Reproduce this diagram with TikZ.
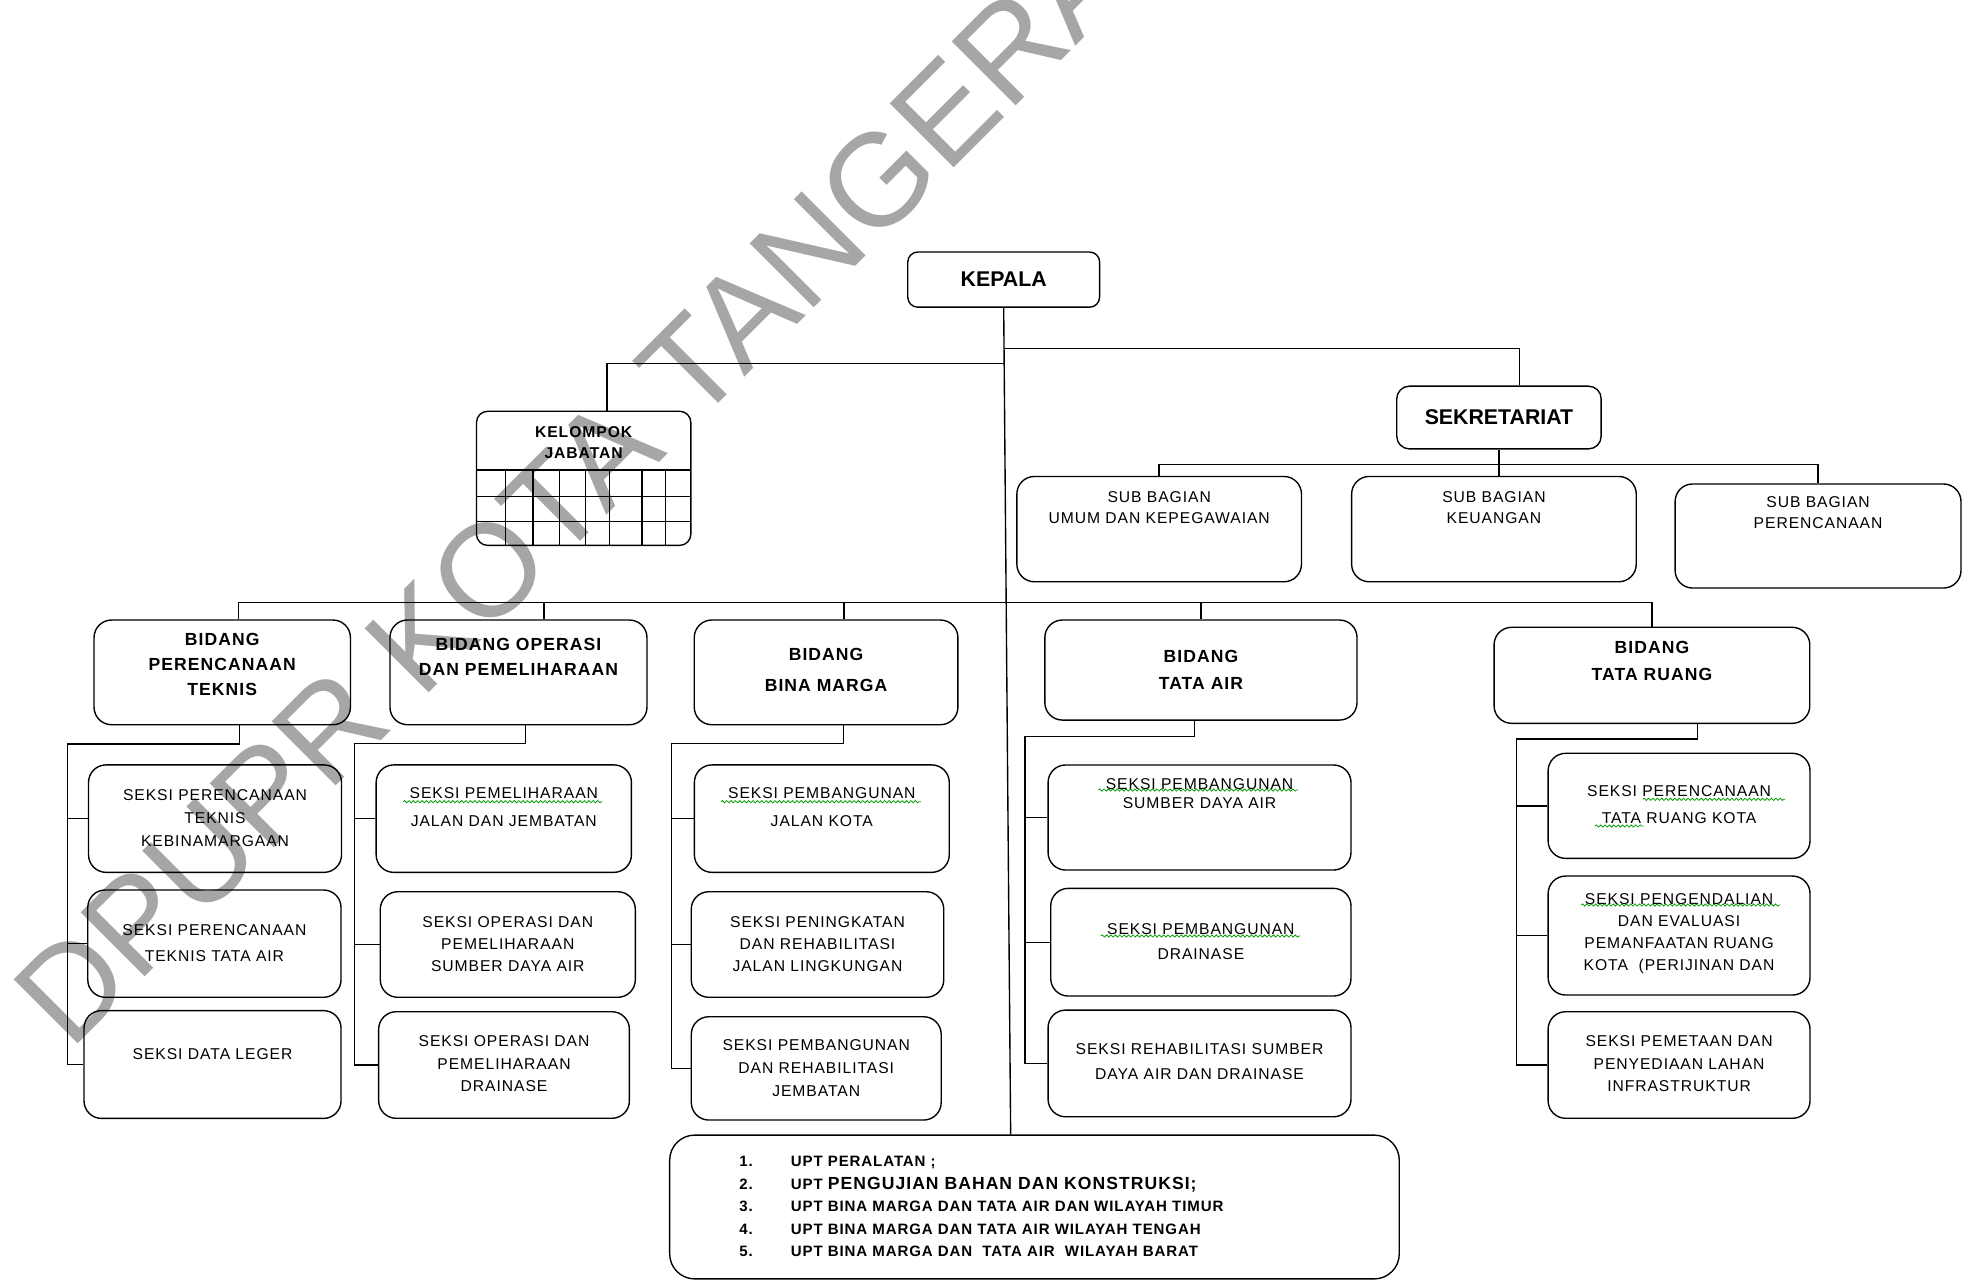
\documentclass[tikz,border=0pt]{standalone}
\usepackage{fontspec}
\setmainfont{Liberation Sans}
\newfontfamily\lebar{Liberation Sans}[LetterSpace=6]
\usetikzlibrary{decorations.pathmorphing}

\tikzset{
  garis/.style={line width=1.1pt},
  kotak/.style={draw, line width=1.1pt, rounded corners=14pt, inner sep=0pt},
  isi/.style={align=center, inner sep=0pt, font=\lebar\fontsize{12.5}{#1}\selectfont},
  isi/.default=18,
  judul/.style={align=center, inner sep=0pt, font=\lebar\bfseries\fontsize{14}{#1}\selectfont},
  judul/.default=21,
  kecil/.style={align=center, inner sep=0pt, font=\lebar\bfseries\fontsize{12.5}{17}\selectfont},
  salah/.style={draw=green!60!black, line width=0.6pt, decorate,
    decoration={snake, amplitude=0.9pt, segment length=3.5pt}},
  tandaair/.style={rotate=45, anchor=base west, inner sep=0pt, text=black!35,
    font=\fontsize{105}{105}\selectfont}
}

\begin{document}
\begin{tikzpicture}[x=1pt, y=-1pt]
  \useasboundingbox (0,0) rectangle (1568,1022);

  \begin{scope}
    \clip (0,0) rectangle (1568,1022);
    \draw (56,839) node [tandaair] (watermark) {DPUPR KOTA TANGERANG};
  \end{scope}

  \draw (800.5,223) node [kotak, rounded corners=8pt, minimum width=153pt, minimum height=44pt,
    font=\bfseries\fontsize{17}{20}\selectfont] (kepala) {KEPALA};

  \draw (1195.5,333) node [kotak, rounded corners=10pt, minimum width=163pt, minimum height=50pt,
    font=\bfseries\fontsize{17}{20}\selectfont] (sekretariat) {SEKRETARIAT};

  \draw (465.5,381.5) node [kotak, rounded corners=9pt, minimum width=171pt, minimum height=107pt,
    label={[kecil, below=12.5pt]north:{KELOMPOK\\JABATAN}}] (jabatan) {};
  \foreach \gy in {375,396,416} \draw[garis] (380,\gy) -- (551,\gy);
  \foreach \gx in {403,425,446,467,486,512,531} \draw[garis] (\gx,375) -- (\gx,435);

  \draw (924.5,422) node [kotak, minimum width=227pt, minimum height=84pt,
    label={[isi=17, below=12.4pt]north:{SUB BAGIAN\\UMUM DAN KEPEGAWAIAN}}] (subUmum) {};

  \draw (1191.5,422) node [kotak, minimum width=227pt, minimum height=84pt,
    label={[isi=17, below=12.4pt]north:{SUB BAGIAN\\KEUANGAN}}] (subKeu) {};

  \draw (1450,427.5) node [kotak, minimum width=228pt, minimum height=83pt,
    label={[isi=16.5, below=10.4pt]north:{SUB BAGIAN\\PERENCANAAN}}] (subRen) {};

  \draw (177.25,536.25) node [kotak, minimum width=204.5pt, minimum height=83.5pt,
    label={[judul=20, below=10.9pt]north:{BIDANG\\PERENCANAAN\\TEKNIS}}] (bidPT) {};

  \draw (413.5,536.25) node [kotak, minimum width=205pt, minimum height=83.5pt,
    label={[judul=20, below=14.9pt]north:{BIDANG OPERASI\\DAN PEMELIHARAAN}}] (bidOP) {};

  \draw (658.85,536.25) node [kotak, minimum width=210.3pt, minimum height=83.5pt,
    label={[judul=25, below=22.9pt]north:{BIDANG\\BINA MARGA}}] (bidBM) {};

  \draw (957.8,534.4) node [kotak, minimum width=249pt, minimum height=79.8pt,
    label={[judul=22, below=24.2pt]north:{BIDANG\\TATA AIR}}] (bidTA) {};

  \draw (1317.5,538.6) node [kotak, minimum width=251.8pt, minimum height=76.6pt,
    label={[judul=21, below=11.7pt]north:{BIDANG\\TATA RUANG}}] (bidTR) {};

  \draw (171.5,652.9) node [kotak, minimum width=201.8pt, minimum height=85.7pt,
    label={[isi=18, below=20.4pt]north:{SEKSI PERENCANAAN\\TEKNIS\\KEBINAMARGAAN}}] (sPT1) {};
  \draw (171,752.6) node [kotak, minimum width=202pt, minimum height=85.6pt,
    label={[isi=21, below=28pt]north:{SEKSI PERENCANAAN\\TEKNIS TATA AIR}}] (sPT2) {};
  \draw (169.5,849) node [kotak, minimum width=205pt, minimum height=86pt,
    label={[isi, below=30.9pt]north:{SEKSI DATA LEGER}}] (sPT3) {};

  \draw (401.8,652.9) node [kotak, minimum width=203.6pt, minimum height=85.7pt,
    label={[isi=22.5, below=18.2pt]north:{SEKSI PEMELIHARAAN\\JALAN DAN JEMBATAN}}] (sOP1) {};
  \draw (405,753.3) node [kotak, minimum width=203.4pt, minimum height=84.2pt,
    label={[isi=17.5, below=20.2pt]north:{SEKSI OPERASI DAN\\PEMELIHARAAN\\SUMBER DAYA AIR}}] (sOP2) {};
  \draw (402,849.4) node [kotak, minimum width=200pt, minimum height=85pt,
    label={[isi=18, below=19.4pt]north:{SEKSI OPERASI DAN\\PEMELIHARAAN\\DRAINASE}}] (sOP3) {};

  \draw (655.45,652.9) node [kotak, minimum width=203.3pt, minimum height=85.7pt,
    label={[isi=22, below=18.8pt]north:{SEKSI PEMBANGUNAN\\JALAN KOTA}}] (sBM1) {};
  \draw (652,753.3) node [kotak, minimum width=201.4pt, minimum height=84.2pt,
    label={[isi=17.5, below=20.2pt]north:{SEKSI PENINGKATAN\\DAN REHABILITASI\\JALAN LINGKUNGAN}}] (sBM2) {};
  \draw (651,852.1) node [kotak, minimum width=199.3pt, minimum height=82.4pt,
    label={[isi=18, below=18.9pt]north:{SEKSI PEMBANGUNAN\\DAN REHABILITASI\\JEMBATAN}}] (sBM3) {};

  \draw (956.7,652) node [kotak, minimum width=241.6pt, minimum height=83.8pt,
    label={[isi=15, below=11.5pt]north:{SEKSI PEMBANGUNAN\\SUMBER DAYA AIR}}] (sTA1) {};
  \draw (957.75,751.45) node [kotak, minimum width=239.5pt, minimum height=85.9pt,
    label={[isi=20, below=28.2pt]north:{SEKSI PEMBANGUNAN\\DRAINASE}}] (sTA2) {};
  \draw (956.7,848.15) node [kotak, minimum width=241.6pt, minimum height=85.1pt,
    label={[isi=20.5, below=26.8pt]north:{SEKSI REHABILITASI SUMBER\\DAYA AIR DAN DRAINASE}}] (sTA3) {};

  \draw (1339.15,642.7) node [kotak, minimum width=208.9pt, minimum height=83.8pt,
    label={[isi=21.3, below=26.1pt]north:{SEKSI PERENCANAAN\\TATA RUANG KOTA}}] (sTR1) {};
  \draw (1339.15,746.15) node [kotak, minimum width=208.9pt, minimum height=94.9pt,
    label={[isi=17.5, below=14.1pt]north:{SEKSI PENGENDALIAN\\DAN EVALUASI\\PEMANFAATAN RUANG\\KOTA\ \ (PERIJINAN DAN}}] (sTR2) {};
  \draw (1339.15,849.4) node [kotak, minimum width=208.9pt, minimum height=85pt,
    label={[isi=18, below=19.4pt]north:{SEKSI PEMETAAN DAN\\PENYEDIAAN LAHAN\\INFRASTRUKTUR}}] (sTR3) {};

  \draw (825.05,962.65) node [kotak, rounded corners=20pt, minimum width=581.9pt, minimum height=114.7pt] (upt) {};
  \draw ([xshift=56pt, yshift=-12.9pt]upt.north west) node [anchor=north west, inner sep=0pt,
    font=\lebar\bfseries\fontsize{12}{18}\selectfont] (uptList)
  {\begin{tabular}{@{}p{41pt}@{}l@{}}
    1. & UPT PERALATAN ;\\
    2. & UPT {\fontsize{14}{18}\selectfont PENGUJIAN BAHAN DAN KONSTRUKSI;}\\
    3. & UPT BINA MARGA DAN TATA AIR DAN WILAYAH TIMUR\\
    4. & UPT BINA MARGA DAN TATA AIR WILAYAH TENGAH\\
    5. & UPT BINA MARGA DAN\ \ TATA AIR\ \ WILAYAH BARAT
  \end{tabular}};

  \coordinate (trunkSek) at (801,278);
  \coordinate (trunkJab) at (801,290);
  \coordinate (trunkBid) at (802,480.5);
  \draw[garis] (kepala.south) -- ([xshift=-19pt]upt.north);
  \draw[garis] ([xshift=16.5pt]sekretariat.north) |- (trunkSek);
  \draw[garis] ([xshift=18.5pt]jabatan.north) |- (trunkJab);

  \coordinate (sekJ) at ([yshift=-12pt]sekretariat.south);
  \draw[garis] (sekretariat.south) -- (sekretariat.south |- subKeu.north);
  \draw[garis] (subUmum.north) |- (sekJ) -| (subRen.north);

  \draw[garis] ([xshift=12.75pt]bidPT.north) |- (trunkBid);
  \draw[garis] ([xshift=20.5pt]bidOP.north) |- (trunkBid);
  \draw[garis] ([xshift=14.15pt]bidBM.north) |- (trunkBid);
  \draw[garis] (bidTA.north) |- (trunkBid);
  \draw[garis] (bidTR.north) |- (trunkBid);

  \coordinate (jPT) at (54,593.5);
  \coordinate (jOP) at (282.5,593);
  \coordinate (jBM) at (535.5,593);
  \coordinate (jTA) at (817.5,587.5);
  \coordinate (jTR) at (1209.5,589.5);

  \draw[garis] ([xshift=14pt]bidPT.south) |- (jPT) |- (sPT3.west);
  \draw[garis] (jPT) |- (sPT1.west);
  \draw[garis] (jPT) |- (sPT2.west);

  \draw[garis] ([xshift=5.5pt]bidOP.south) |- (jOP) |- (sOP3.west);
  \draw[garis] (jOP) |- (sOP1.west);
  \draw[garis] (jOP) |- (sOP2.west);

  \draw[garis] ([xshift=14pt]bidBM.south) |- (jBM) |- (sBM3.west);
  \draw[garis] (jBM) |- (sBM1.west);
  \draw[garis] (jBM) |- (sBM2.west);

  \draw[garis] ([xshift=-5pt]bidTA.south) |- (jTA) |- (sTA3.west);
  \draw[garis] (jTA) |- (sTA1.west);
  \draw[garis] (jTA) |- (sTA2.west);

  \draw[garis] ([xshift=36.5pt]bidTR.south) |- (jTR) |- (sTR3.west);
  \draw[garis] (jTR) |- (sTR1.west);
  \draw[garis] (jTR) |- (sTR2.west);

  \draw[salah] (321.6,639.4) -- (480.5,639.4);
  \draw[salah] (575,639.4) -- (734.4,639.4);
  \draw[salah] (876,630.1) -- (1035.4,630.1);
  \draw[salah] (878,746.5) -- (1037,746.5);
  \draw[salah] (1310.2,637.5) -- (1424,637.5);
  \draw[salah] (1272,658.8) -- (1310.8,658.8);
  \draw[salah] (1261,721.8) -- (1420,721.8);

\end{tikzpicture}
\end{document}
